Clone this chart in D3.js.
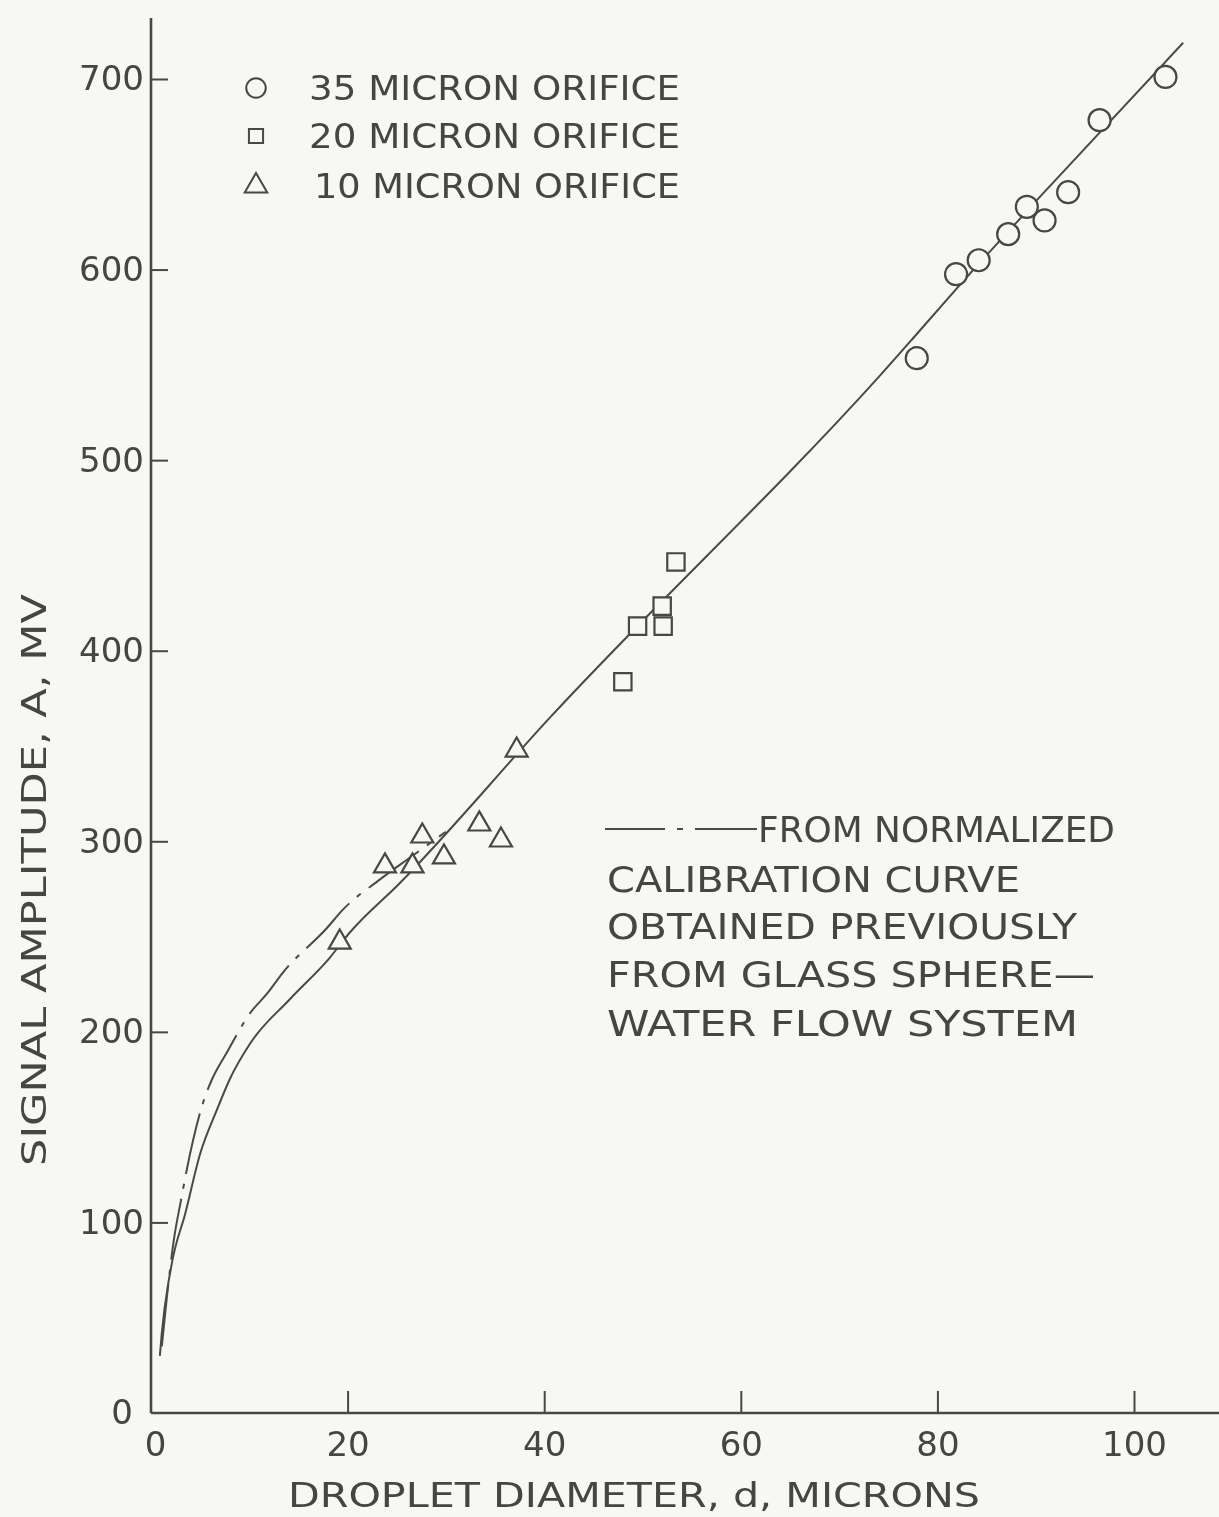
<!DOCTYPE html>
<html>
<head>
<meta charset="utf-8">
<script src="https://cdn.jsdelivr.net/npm/d3@7"></script>
<style>
  html, body { margin: 0; padding: 0; background: #f7f7f4; }
  svg { display: block; }
  text { font-family: "DejaVu Sans", "Liberation Sans", sans-serif; fill: #454545; }
</style>
</head>
<body>
<script>
// ---- data -------------------------------------------------------------
const xTickValues = [0, 20, 40, 60, 80, 100];
const yTickValues = [0, 100, 200, 300, 400, 500, 600, 700];

// droplet diameter (microns), signal amplitude (mV)
const orifice35 = [[77.9, 553.5], [81.9, 597.6], [84.2, 604.9], [87.2, 618.6], [89.1, 632.9],
                   [90.9, 625.8], [93.3, 640.6], [96.5, 678.4], [103.2, 701.1]];
const orifice20 = [[48.0, 383.7], [49.5, 412.9], [52.0, 423.4], [52.1, 412.9], [53.4, 446.6]];
const orifice10 = [[19.2, 247], [23.8, 287], [26.6, 287], [27.6, 302.7], [29.8, 291.7],
                   [33.4, 309], [35.6, 300.6], [37.2, 347.8]];

// faired curve through the droplet data
const fittedCurve = [[0.9, 30], [1.1, 42], [2.1, 78], [3.5, 105], [5.0, 136], [6.7, 159],
                     [8.0, 175], [10.1, 194], [14.1, 217], [18.2, 239], [20.2, 252], [25.3, 278],
                     [40.6, 365], [74.2, 544.6], [84.2, 603], [90.4, 638], [105, 719]];
// normalized calibration curve (glass sphere / water flow system)
const calibrationCurve = [[1.1, 35], [1.6, 60], [2.3, 90], [3.1, 113], [3.5, 124], [5.5, 166],
                          [6.2, 175], [7.7, 189], [10.1, 210], [11.8, 220], [13.4, 231],
                          [17.9, 254.5], [19.5, 264], [23.3, 280], [26.5, 292], [30, 305]];

const legendLabels = ["35 MICRON ORIFICE", "20 MICRON ORIFICE", "10 MICRON ORIFICE"];
const noteLines = ["FROM NORMALIZED", "CALIBRATION CURVE", "OBTAINED PREVIOUSLY",
                   "FROM GLASS SPHERE\u2014", "WATER FLOW SYSTEM"];
const xTitle = "DROPLET DIAMETER, d, MICRONS";
const yTitle = "SIGNAL AMPLITUDE, A, MV";

// ---- layout -----------------------------------------------------------
const W = 1219, H = 1517;
const ink = "#464646";

const svg = d3.select("body").append("svg")
  .attr("width", W).attr("height", H);

const defs = svg.append("defs");
defs.append("filter").attr("id", "soft")
  .append("feGaussianBlur").attr("stdDeviation", 0.75);

svg.append("rect").attr("width", W).attr("height", H).attr("fill", "#f7f7f4");

const g = svg.append("g").attr("filter", "url(#soft)");

const x = d3.scaleLinear().domain([0, 100]).range([151, 1134]);
const y = d3.scaleLinear().domain([0, 700]).range([1413, 79]);

// axes
const xAxis = d3.axisBottom(x)
  .tickValues(xTickValues)
  .tickSize(-22).tickSizeOuter(0).tickPadding(19)
  .tickFormat(d3.format("d"));
const yAxis = d3.axisLeft(y)
  .tickValues(yTickValues)
  .tickSize(-17).tickSizeOuter(0).tickPadding(7)
  .tickFormat(d3.format("d"));

const gx = g.append("g").attr("transform", `translate(0,${y(0)})`).call(xAxis);
const gy = g.append("g").attr("transform", `translate(${x(0)},0)`).call(yAxis);
[gx, gy].forEach(a => {
  a.select(".domain").remove();
  a.selectAll(".tick line").attr("stroke", ink).attr("stroke-width", 2);
  a.selectAll(".tick text").attr("font-size", 34).attr("fill", "#4a4a4a")
    .style("font-family", "'DejaVu Sans', sans-serif");
});
gx.selectAll(".tick").filter(d => d === 0).select("line").remove();
gx.selectAll(".tick").filter(d => d === 0).select("text").attr("x", 4);
gy.selectAll(".tick").filter(d => d === 0).select("line").remove();
gy.selectAll(".tick").filter(d => d === 0).select("text").attr("x", -18);

// axis lines
g.append("line")
  .attr("x1", x(0)).attr("x2", x(0)).attr("y1", y(0)).attr("y2", y(732))
  .attr("stroke", ink).attr("stroke-width", 2.6);
g.append("line")
  .attr("x1", x(0)).attr("x2", x(108.7)).attr("y1", y(0)).attr("y2", y(0))
  .attr("stroke", ink).attr("stroke-width", 2.6);

// curves
const line = d3.line().x(d => x(d[0])).y(d => y(d[1])).curve(d3.curveMonotoneX);
g.append("path").datum(fittedCurve).attr("d", line)
  .attr("fill", "none").attr("stroke", "#4a4a4a").attr("stroke-width", 2);
g.append("path").datum(calibrationCurve).attr("d", line)
  .attr("fill", "none").attr("stroke", "#4a4a4a").attr("stroke-width", 2)
  .attr("stroke-dasharray", "62 10 5 10");

// markers
const bg = "#f7f7f4";
function drawMarkers(data, type, size) {
  g.append("g").selectAll("path").data(data).join("path")
    .attr("transform", d => `translate(${x(d[0])},${y(d[1])})`)
    .attr("d", d3.symbol().type(type).size(size))
    .attr("fill", bg).attr("stroke", ink).attr("stroke-width", 2.2);
}
drawMarkers(orifice35, d3.symbolCircle, 380);
drawMarkers(orifice20, d3.symbolSquare, 300);
drawMarkers(orifice10, d3.symbolTriangle, 210);

// legend
const legendTypes = [[d3.symbolCircle, 300], [d3.symbolSquare, 200], [d3.symbolTriangle, 220]];
const legendRowY = [88, 136, 186];
const legend = g.append("g");
legendLabels.forEach((lab, i) => {
  legend.append("path")
    .attr("transform", `translate(256,${legendRowY[i]})`)
    .attr("d", d3.symbol().type(legendTypes[i][0]).size(legendTypes[i][1]))
    .attr("fill", bg).attr("stroke", ink).attr("stroke-width", 2);
  legend.append("text")
    .attr("x", i === 2 ? 314 : 309).attr("y", legendRowY[i] + 12)
    .attr("font-size", 33)
    .attr("textLength", i === 2 ? 366 : 371).attr("lengthAdjust", "spacingAndGlyphs")
    .text(lab);
});

// note with dash-dot key
const note = g.append("g");
note.append("line")
  .attr("x1", 605).attr("x2", 757).attr("y1", 829).attr("y2", 829)
  .attr("stroke", "#4a4a4a").attr("stroke-width", 2.2)
  .attr("stroke-dasharray", "60 12 6 12 62");
const noteX = [758, 607, 607, 607, 607];
const noteY = [842, 892, 939, 987, 1036];
const noteLen = [357, 413, 470, 488, 471];
noteLines.forEach((t, i) => {
  note.append("text")
    .attr("x", noteX[i]).attr("y", noteY[i])
    .attr("font-size", 36)
    .attr("textLength", noteLen[i]).attr("lengthAdjust", "spacingAndGlyphs")
    .text(t);
});

// axis titles
g.append("text")
  .attr("x", 288).attr("y", 1507)
  .attr("font-size", 33)
  .attr("textLength", 692).attr("lengthAdjust", "spacingAndGlyphs")
  .text(xTitle);
g.append("text")
  .attr("transform", "translate(46,1166) rotate(-90)")
  .attr("x", 0).attr("y", 0)
  .attr("font-size", 33)
  .attr("textLength", 572).attr("lengthAdjust", "spacingAndGlyphs")
  .text(yTitle);
</script>
</body>
</html>
